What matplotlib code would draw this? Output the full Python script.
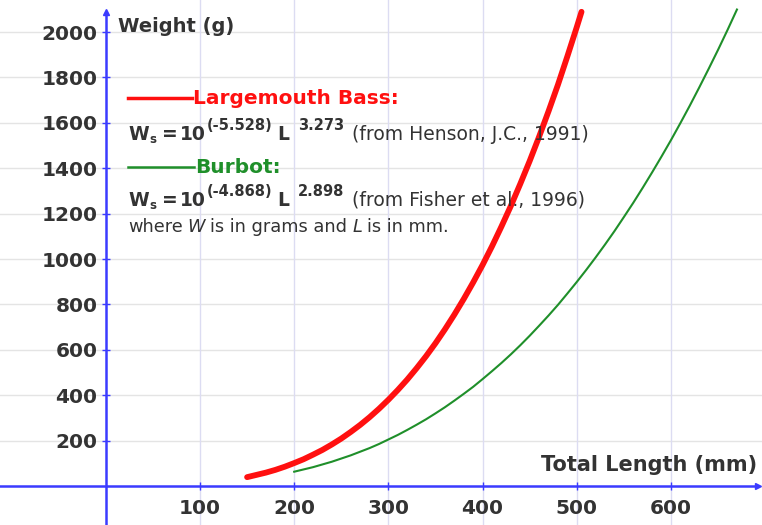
import matplotlib
matplotlib.use("Agg")
import matplotlib.pyplot as plt

# Data (total length in mm, weight in g)
bass_length = [150, 160, 170, 180, 190, 200, 210, 220, 230, 240, 250, 260, 270, 280, 290, 300,
               310, 320, 330, 340, 350, 360, 370, 380, 390, 400, 410, 420, 430, 440, 450, 460,
               470, 480, 490, 500, 505]
bass_weight = [39, 49, 59, 71, 85, 101, 118, 138, 159, 183, 209, 238, 269, 303, 340, 380,
               423, 469, 519, 572, 629, 690, 755, 824, 897, 974, 1056, 1143, 1234, 1331, 1432, 1539,
               1651, 1768, 1893, 2022, 2089]
burbot_length = [200, 210, 220, 230, 240, 250, 260, 270, 280, 290, 300, 310, 320, 330, 340, 350,
                 360, 370, 380, 390, 400, 410, 420, 430, 440, 450, 460, 470, 480, 490, 500, 510,
                 520, 530, 540, 550, 560, 570, 580, 590, 600, 610, 620, 630, 640, 650, 660, 670]
burbot_weight = [63, 73, 83, 95, 107, 121, 135, 151, 167, 185, 205, 225, 247, 270, 294, 320,
                 347, 376, 406, 437, 471, 506, 542, 580, 620, 662, 706, 751, 798, 848, 899, 952,
                 1007, 1064, 1123, 1185, 1248, 1314, 1382, 1452, 1524, 1599, 1676, 1756, 1838, 1922,
                 2009, 2099]
x_ticks = [100, 200, 300, 400, 500, 600]
y_ticks = [200, 400, 600, 800, 1000, 1200, 1400, 1600, 1800, 2000]

BLUE = "#3b3bff"
RED = "#ff1010"
GREEN = "#1f8f2a"
TXT = "#333333"
W, H = 762.0, 525.0

fig = plt.figure(figsize=(7.62, 5.25), dpi=100)
ax = fig.add_axes([0, 0, 1, 1])
ax.set_xlim(-112.3, 696.6)
ax.set_ylim(-171.8, 2141)

# grid
for yv in y_ticks:
    ax.axhline(yv, color="#e4e4e4", lw=1.0, zorder=0)
for xv in x_ticks:
    ax.axvline(xv, color="#dcdcf2", lw=1.0, zorder=0)

# axes through origin
for s in ["top", "right"]:
    ax.spines[s].set_visible(False)
for s in ["left", "bottom"]:
    ax.spines[s].set_position(("data", 0))
    ax.spines[s].set_color(BLUE)
    ax.spines[s].set_linewidth(1.8)
ax.spines["left"].set_bounds(-171.8, 2088)
ax.spines["bottom"].set_bounds(-112.3, 692)
ax.plot([0], [2088], marker="^", color=BLUE, ms=4, clip_on=False, zorder=5)
ax.plot([692], [0], marker=">", color=BLUE, ms=4, clip_on=False, zorder=5)

ax.set_xticks(x_ticks)
ax.set_yticks(y_ticks)
ax.set_xticklabels([str(v) for v in x_ticks])
ax.set_yticklabels([str(v) for v in y_ticks])
ax.tick_params(axis="both", direction="inout", length=6, width=1, color=BLUE,
               labelsize=14.5, labelcolor=TXT)
ax.tick_params(axis="y", pad=3)
ax.tick_params(axis="x", pad=6)
for lab in ax.get_xticklabels() + ax.get_yticklabels():
    lab.set_fontweight("bold")

# curves
ax.plot(bass_length, bass_weight, color=RED, lw=4.2, solid_capstyle="round", zorder=3)
ax.plot(burbot_length, burbot_weight, color=GREEN, lw=1.5, zorder=3)

renderer = fig.canvas.get_renderer()


def place(x, y, s, size, weight="normal", color=TXT, style="normal", ha="left", va="baseline"):
    return fig.text(x / W, 1 - y / H, s, fontsize=size, fontweight=weight, color=color,
                    fontstyle=style, ha=ha, va=va)


def seq(x, y, parts):
    for s, size, style, gap in parts:
        t = place(x, y, s, size, style=style)
        x += t.get_window_extent(renderer).width + gap
    return x


def formula(y, expo, power, source):
    place(128, y, "W", 13.5, weight="bold")
    place(149, y + 3, "s", 8.5, weight="bold")
    place(162, y, "=", 13.5, weight="bold")
    place(180, y, "10", 13.5, weight="bold")
    place(207, y - 10, expo, 10.5, weight="bold")
    place(277, y, "L", 13.5, weight="bold")
    place(298, y - 10, power, 10.5, weight="bold")
    place(352, y, source, 13.5)


# axis titles
place(118, 26, "Weight (g)", 14, weight="bold", va="center")
place(757, 465, "Total Length (mm)", 15, weight="bold", ha="right", va="center")

# legend-like annotations
fig.add_artist(plt.Line2D([128 / W, 192 / W], [1 - 98 / H] * 2, color=RED, lw=2.5))
place(193, 104, "Largemouth Bass:", 14.5, weight="bold", color=RED)
formula(140, "(-5.528)", "3.273", "(from Henson, J.C., 1991)")

fig.add_artist(plt.Line2D([128 / W, 194 / W], [1 - 167 / H] * 2, color=GREEN, lw=1.8))
place(195, 173, "Burbot:", 14.5, weight="bold", color=GREEN)
formula(206, "(-4.868)", "2.898", "(from Fisher et al., 1996)")

seq(128, 232, [("where", 12.8, "normal", 5),
               ("W", 12.8, "italic", 5),
               ("is in grams and", 12.8, "normal", 5),
               ("L", 12.8, "italic", 5),
               ("is in mm.", 12.8, "normal", 0)])

fig.savefig("out.png", dpi=100)
